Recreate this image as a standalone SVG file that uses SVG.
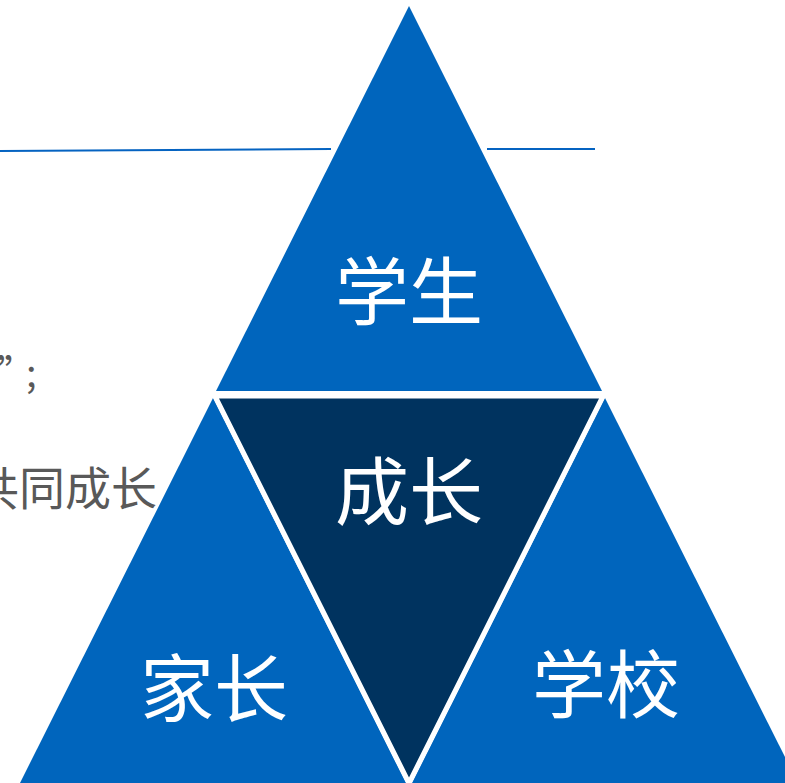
<svg xmlns="http://www.w3.org/2000/svg" width="785" height="783" viewBox="0 0 785 783">
<style>
.blue{fill:#0065BD}
.dark{fill:#00335F;stroke:#FFFFFF;stroke-width:5;stroke-linejoin:miter}
.lbl{font-family:"Noto Sans CJK SC","Noto Sans",sans-serif;font-size:74px;fill:#FFFFFF;text-anchor:middle}
.side{font-family:"Noto Sans CJK SC","Noto Sans",sans-serif;fill:#595959}
.rule{stroke:#0563C1;stroke-width:2;fill:none}
</style>
<rect width="785" height="783" fill="#FFFFFF"/>
<g id="rule">
<line class="rule" x1="0" y1="151" x2="331" y2="149"/>
<line class="rule" x1="487" y1="149" x2="595" y2="149"/>
</g>
<g id="side-text">
<text class="side" x="-3" y="387" font-size="38">”<tspan x="26">;</tspan></text>
<text class="side" x="157" y="505" font-size="46" text-anchor="end">共同成长</text>
</g>
<g id="node-student">
<polygon class="blue" points="409,6 602,391 216,391"/>
<text class="lbl" x="409" y="319">学生</text>
</g>
<g id="node-parent">
<polygon class="blue" points="213,398 406,783 20,783"/>
<text class="lbl" x="214" y="716">家长</text>
</g>
<g id="node-school">
<polygon class="blue" points="605,398 798,783 412,783"/>
<text class="lbl" x="606" y="712">学校</text>
</g>
<g id="node-growth">
<polygon class="dark" points="215,396 603,396 409,783"/>
<text class="lbl" x="409" y="519">成长</text>
</g>
</svg>
